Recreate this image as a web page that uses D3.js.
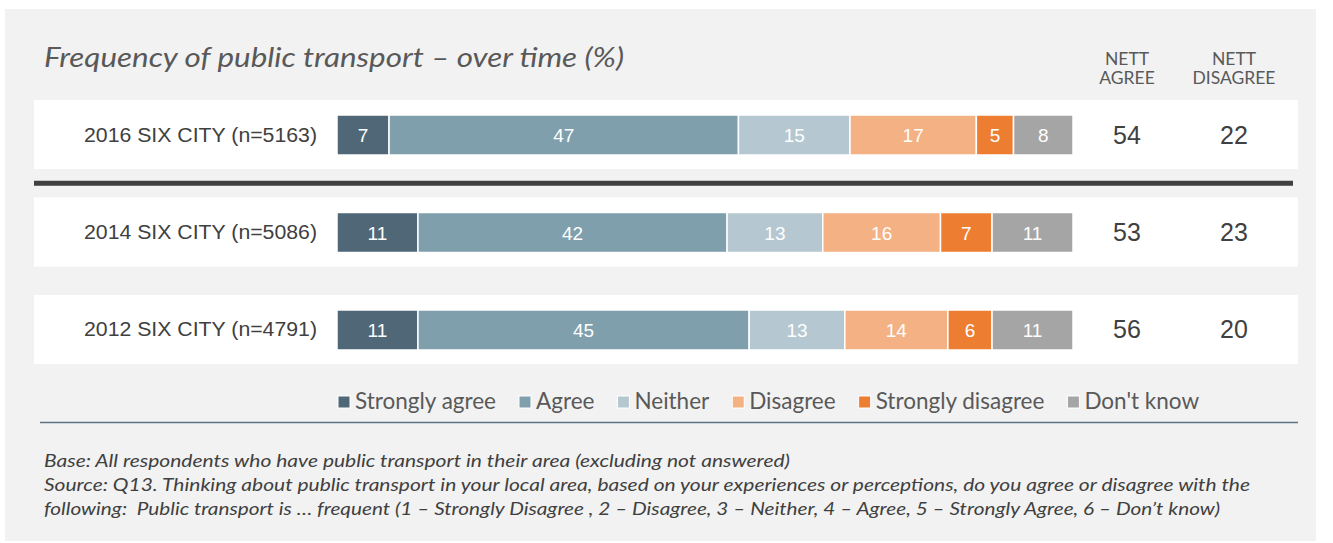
<!DOCTYPE html>
<html>
<head>
<meta charset="utf-8">
<script src="https://cdn.jsdelivr.net/npm/d3@7"></script>
<style>
  html, body { margin: 0; padding: 0; background: #ffffff; }
  svg { display: block; }
  .note { white-space: pre; }
</style>
</head>
<body>
<svg id="chart" width="1333" height="543"></svg>
<script>
// ---- data ----
const rows = ["2016 SIX CITY (n=5163)", "2014 SIX CITY (n=5086)", "2012 SIX CITY (n=4791)"];
const responses = ["Strongly agree", "Agree", "Neither", "Disagree", "Strongly disagree", "Don't know"];
const stronglyAgree    = [7, 11, 11];
const agree            = [47, 42, 45];
const neither          = [15, 13, 13];
const disagree         = [17, 16, 14];
const stronglyDisagree = [5, 7, 6];
const dontKnow         = [8, 11, 11];
const nettAgree        = [54, 53, 56];
const nettDisagree     = [22, 23, 20];
const nettHeaders      = [["NETT", "AGREE"], ["NETT", "DISAGREE"]];
const titleText = "Frequency of public transport \u2013 over time (%)";
const notes = [
  "Base: All respondents who have public transport in their area (excluding not answered)",
  "Source: Q13. Thinking about public transport in your local area, based on your experiences or perceptions, do you agree or disagree with the",
  "following:  Public transport is \u2026 frequent (1 \u2013 Strongly Disagree , 2 \u2013 Disagree, 3 \u2013 Neither, 4 \u2013 Agree, 5 \u2013 Strongly Agree, 6 \u2013 Don\u2019t know)"
];

const palette = ["#4f6776", "#809fad", "#b5c7d0", "#f4b183", "#ed7d31", "#a5a5a5"];

// ---- table for the stack ----
const seriesArrays = [stronglyAgree, agree, neither, disagree, stronglyDisagree, dontKnow];
const table = rows.map((r, i) => {
  const o = { row: r };
  responses.forEach((k, j) => { o[k] = seriesArrays[j][i]; });
  return o;
});

const svg = d3.select("#chart");

// panel background
svg.append("rect").attr("x", 5).attr("y", 9).attr("width", 1311).attr("height", 532).attr("fill", "#f2f2f2");

// title
svg.append("text")
  .attr("x", 44).attr("y", 67)
  .attr("font-family", "Lato, 'Open Sans', sans-serif")
  .attr("font-style", "italic")
  .attr("font-size", 27)
  .attr("fill", "#595959")
  .attr("textLength", 580).attr("lengthAdjust", "spacingAndGlyphs")
  .text(titleText);

// scales
const y = d3.scaleBand().domain(rows).range([100, 364]).paddingInner(0.292);
const x = d3.scaleLinear().domain([0, 1]).range([337, 1073]);
const color = d3.scaleOrdinal().domain(responses).range(palette);
const nettX = d3.scaleOrdinal().domain([0, 1]).range([1127, 1234]);

// white row bands
svg.append("g").selectAll("rect").data(rows).join("rect")
  .attr("x", 34).attr("width", 1264)
  .attr("y", d => y(d)).attr("height", y.bandwidth())
  .attr("fill", "#ffffff");

// divider between current and previous waves
svg.append("rect")
  .attr("x", 34).attr("width", 1259)
  .attr("y", (y(rows[0]) + y.bandwidth() + y(rows[1])) / 2 - 2.5).attr("height", 5)
  .attr("fill", "#404040");

// row labels
svg.append("g").selectAll("text").data(rows).join("text")
  .attr("x", 317)
  .attr("y", d => y(d) + y.bandwidth() / 2 + 7)
  .attr("text-anchor", "end")
  .attr("font-family", "'Liberation Sans', Arial, sans-serif")
  .attr("font-size", 20)
  .attr("fill", "#404040")
  .attr("textLength", 233).attr("lengthAdjust", "spacingAndGlyphs")
  .text(d => d);

// stacked bars, normalised to the full bar width
const stack = d3.stack().keys(responses).offset(d3.stackOffsetExpand);
const stacked = stack(table);
const barH = 40;
const barY = d => y(d.data.row) + (y.bandwidth() - barH) / 2 + 0.5;

const layers = svg.append("g").selectAll("g").data(stacked).join("g")
  .attr("fill", d => color(d.key));

layers.selectAll("rect").data(d => d).join("rect")
  .attr("x", d => x(d[0]))
  .attr("width", d => x(d[1]) - x(d[0]))
  .attr("y", barY)
  .attr("height", barH)
  .attr("stroke", "#ffffff")
  .attr("stroke-width", 1.5);

layers.selectAll("text").data(d => d.map(v => Object.assign(v, { key: d.key }))).join("text")
  .attr("x", d => (x(d[0]) + x(d[1])) / 2)
  .attr("y", d => barY(d) + barH / 2 + 7)
  .attr("text-anchor", "middle")
  .attr("font-family", "'Liberation Sans', Arial, sans-serif")
  .attr("font-size", 19)
  .attr("fill", "#ffffff")
  .text(d => d.data[d.key]);

// nett headers
nettHeaders.forEach((lines, c) => {
  const t = svg.append("text")
    .attr("text-anchor", "middle")
    .attr("font-family", "Lato, 'Open Sans', sans-serif")
    .attr("font-size", 17.5)
    .attr("fill", "#595959");
  lines.forEach((ln, k) => {
    t.append("tspan").attr("x", nettX(c)).attr("y", 65 + k * 19).text(ln);
  });
});

// nett values
[nettAgree, nettDisagree].forEach((vals, c) => {
  svg.append("g").selectAll("text").data(vals).join("text")
    .attr("x", nettX(c))
    .attr("y", (d, i) => y(rows[i]) + y.bandwidth() / 2 + 9)
    .attr("text-anchor", "middle")
    .attr("font-family", "'Liberation Sans', Arial, sans-serif")
    .attr("font-size", 25)
    .attr("fill", "#404040")
    .text(d => d);
});

// legend
const legend = svg.append("g");
let lx = 338;
responses.forEach(k => {
  const item = legend.append("g");
  item.append("rect")
    .attr("x", lx).attr("y", 396).attr("width", 12).attr("height", 12)
    .attr("fill", color(k)).attr("stroke", "#ffffff").attr("stroke-width", 1);
  const t = item.append("text")
    .attr("x", lx + 17).attr("y", 409)
    .attr("font-family", "Lato, 'Open Sans', sans-serif")
    .attr("font-size", 22.5)
    .attr("fill", "#595959")
    .text(k);
  lx += 17 + t.node().getComputedTextLength() + 23;
});

// legend rule
svg.append("line")
  .attr("x1", 40).attr("x2", 1298).attr("y1", 422.5).attr("y2", 422.5)
  .attr("stroke", "#5b7483").attr("stroke-width", 1.5);

// footnotes
const noteWidths = [746, 1206, 1176];
svg.append("g").selectAll("text").data(notes).join("text")
  .attr("class", "note")
  .attr("x", 44)
  .attr("y", (d, i) => 467 + i * 24)
  .attr("font-family", "Lato, 'Open Sans', sans-serif")
  .attr("font-style", "italic")
  .attr("font-size", 17)
  .attr("fill", "#404040")
  .attr("textLength", (d, i) => noteWidths[i])
  .attr("lengthAdjust", "spacingAndGlyphs")
  .text(d => d);
</script>
</body>
</html>
